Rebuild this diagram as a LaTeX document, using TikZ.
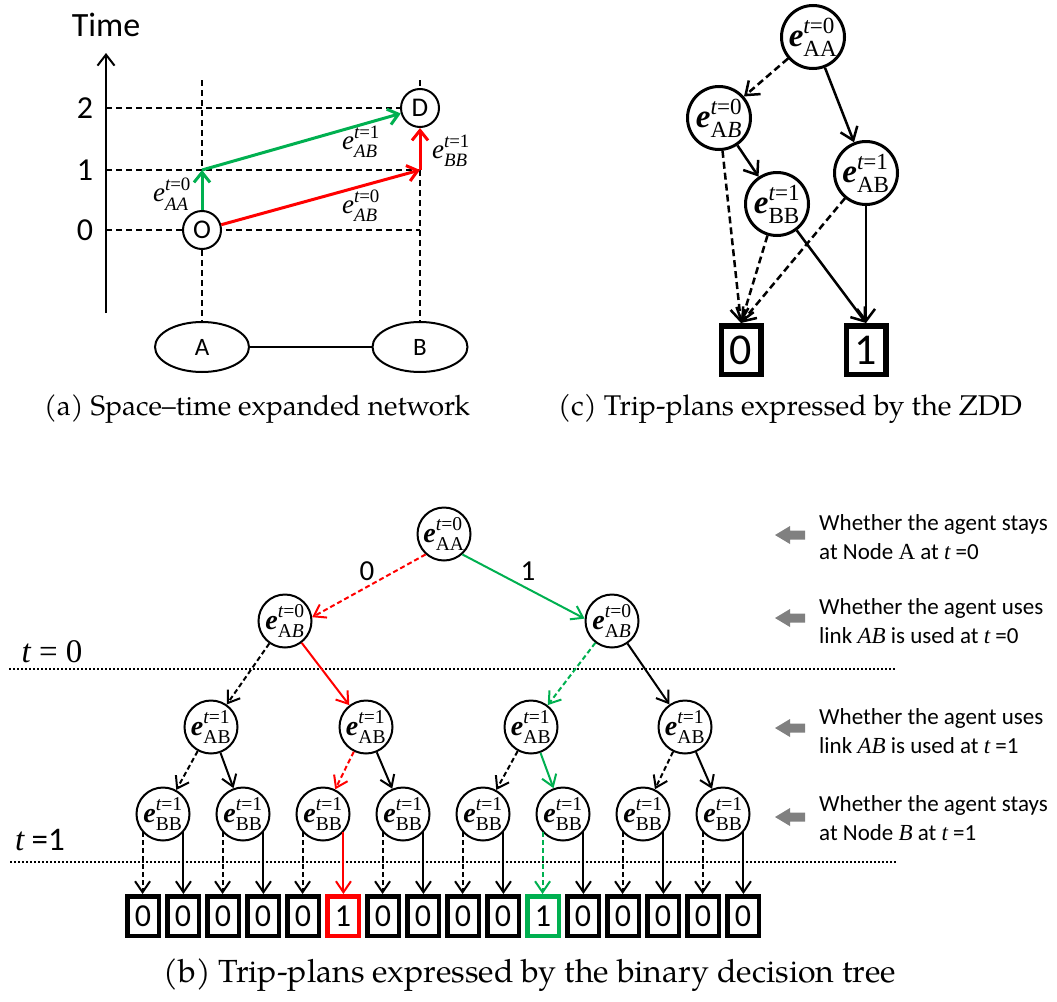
\RequirePackage{fix-cm}
\documentclass[tikz,border=0pt]{standalone}
\usepackage{amsmath}
\usepackage{fontspec}
\newfontfamily\calfont{Carlito}
\newfontfamily\capfont[Ligatures=TeX]{TeX Gyre Pagella}
\newfontfamily\mfont{Liberation Serif}
\usetikzlibrary{arrows.meta,shapes.geometric}

\definecolor{tripred}{RGB}{255,0,0}
\definecolor{tripgreen}{RGB}{0,176,80}
\definecolor{hintgray}{RGB}{128,128,128}

\newcommand\setfs[1]{\fontsize{#1}{#1}\selectfont}
\newcommand\mtx[1]{\text{\mfont #1}}
% script pieces, pushed slightly apart
\newcommand\supp[1]{\raisebox{1.5pt}{$\scriptstyle #1$}}
\newcommand\subb[1]{\raisebox{-1.5pt}{$\scriptstyle #1$}}
% decision variable e^{t=..}_{..}, bold italic e
\newcommand\evar[2]{$\mtx{\bfseries\itshape e}^{\supp{\mtx{\itshape t}\mtx{=#1}}}_{\subb{\mtx{#2}}}$}
% plain italic variant used on the space-time network
\newcommand\pvar[2]{$\mtx{\itshape e}^{\supp{\mtx{\itshape t}\mtx{=#1}}}_{\subb{\mtx{\itshape #2}}}$}

\tikzset{
  gridline/.style={line width=1.6pt,dash pattern=on 6pt off 4pt},
  flow/.style={line width=3pt,-{Straight Barb[length=10pt,width=16pt]}},
  tnode/.style={circle,draw,line width=2pt,fill=white,minimum size=53pt,inner sep=0pt,font=\setfs{28}},
  tedge/.style={line width=2pt,-{Straight Barb[length=11pt,width=15pt]}},
  zeroedge/.style={dash pattern=on 5pt off 3pt},
  leaf/.style={draw,line width=4.5pt,fill=white,minimum width=31.5pt,minimum height=39.5pt,inner sep=0pt,font=\calfont\setfs{32}},
  znode/.style={circle,draw,line width=3pt,fill=white,minimum size=63pt,inner sep=0pt,font=\setfs{33}},
  zedge/.style={line width=2.5pt,-{Straight Barb[length=12pt,width=18pt]}},
  zzero/.style={dash pattern=on 7pt off 4pt},
  zleaf/.style={draw,line width=5.5pt,fill=white,minimum width=39.5pt,minimum height=48.5pt,inner sep=0pt,font=\calfont\setfs{44}},
  caption/.style={font=\capfont},
  hint/.style={anchor=west,align=left,font=\calfont\fontsize{23}{29}\selectfont,inner sep=0pt},
  netlabel/.style={font=\setfs{27},inner sep=0pt},
}

\begin{document}
\begin{tikzpicture}[x=1pt,y=-1pt]
\useasboundingbox (0,0) rectangle (1057,1001);

%% ---------- (a) space-time expanded network ----------
\node[font=\calfont\setfs{34}] (time) at (106,25) {Time};
\coordinate (axlo) at (106,313);
\coordinate (axhi) at (106,53);
\draw[line width=2pt,-{Straight Barb[length=11pt,width=17pt]}] (axlo) -- (axhi);
\foreach \v/\y in {2/108,1/170,0/230}
  \node[font=\calfont\setfs{32}] (tick\v) at (85,\y) {\v};

\coordinate (Atop) at (202,80);  \coordinate (Abot) at (202,322);
\coordinate (Btop) at (420,80);  \coordinate (Bbot) at (420,322);
\coordinate (h2a) at (106,108);  \coordinate (h2b) at (401,108);
\coordinate (h1a) at (106,170);  \coordinate (c1) at (202,170);  \coordinate (c2) at (420,170);
\coordinate (h0a) at (106,230);  \coordinate (h0b) at (420,230);
\draw[gridline] (Atop) -- (Abot);
\draw[gridline] (Btop) -- (Bbot);
\draw[gridline] (h2a) -- (h2b);
\draw[gridline] (h1a) -- (c2);
\draw[gridline] (h0a) -- (h0b);

\node[circle,draw,line width=2pt,fill=white,minimum size=38pt,inner sep=0pt,font=\calfont\setfs{27}] (O) at (202,230) {O};
\node[circle,draw,line width=2pt,fill=white,minimum size=38pt,inner sep=0pt,font=\calfont\setfs{27}] (D) at (420,108) {D};
\node[ellipse,draw,line width=2pt,fill=white,minimum width=94pt,minimum height=50pt,inner sep=0pt,font=\calfont\setfs{25}] (A) at (202,347) {A};
\node[ellipse,draw,line width=2pt,fill=white,minimum width=95pt,minimum height=50pt,inner sep=0pt,font=\calfont\setfs{25}] (B) at (420,347) {B};
\draw[line width=2.5pt] (A) -- (B);

\draw[flow,tripgreen] (O) -- (c1);
\draw[flow,tripgreen] (c1) -- (D);
\draw[flow,tripred] (O) -- (c2);
\draw[flow,tripred] (c2) -- (D);

\node[netlabel] (lAA) at (172,194) {\pvar{0}{AA}};
\node[netlabel] (lAB1) at (361,142) {\pvar{1}{AB}};
\node[netlabel] (lBB1) at (451,151) {\pvar{1}{BB}};
\node[netlabel] (lAB0) at (361,206) {\pvar{0}{AB}};

\node[caption,font=\capfont\setfs{28}] (capa) at (257,409) {(a) Space–time expanded network};

%% ---------- (c) ZDD ----------
\node[znode] (z0) at (813,37) {\evar{0}{AA}};
\node[znode] (z1) at (719,118) {\evar{0}{A\itshape B}};
\node[znode] (z2) at (777,204) {\evar{1}{BB}};
\node[znode] (z3) at (866,173) {\evar{1}{AB}};
\node[zleaf] (zf0) at (741,350) {0};
\node[zleaf] (zf1) at (866,350) {1};
\draw[zedge,zzero] (z0) -- (z1);
\draw[zedge] (z0) -- (z3);
\draw[zedge] (z1) -- (z2);
\draw[zedge,zzero] (z1) -- (zf0.north);
\draw[zedge,zzero] (z2) -- (zf0.north);
\draw[zedge,zzero] (z3) -- (zf0.north);
\draw[zedge] (z2) -- (zf1.north);
\draw[zedge] (z3) -- (zf1.north);

\node[caption,font=\capfont\setfs{28.5}] (capc) at (790,409) {(c) Trip-plans expressed by the ZDD};

%% ---------- (b) binary decision tree ----------
\coordinate (d0a) at (9,669);   \coordinate (d0b) at (895,669);
\coordinate (d1a) at (10,862);  \coordinate (d1b) at (897,862);
\draw[line width=2pt,dash pattern=on 2pt off 2pt] (d0a) -- (d0b);
\draw[line width=2pt,dash pattern=on 2pt off 2pt] (d1a) -- (d1b);
\node[font=\mfont\setfs{33}] (tz) at (52,652) {{\itshape t} = 0};
\node[font=\calfont\setfs{33}] (to) at (40,840) {{\mfont\itshape t} =1};

\node[tnode] (r) at (444,534) {\evar{0}{AA}};
\node[tnode] (p0) at (285,621) {\evar{0}{A\itshape B}};
\node[tnode] (p1) at (612,621) {\evar{0}{A\itshape B}};
\foreach \i/\x in {0/211,1/366,2/531,3/685}
  \node[tnode] (q\i) at (\x,727) {\evar{1}{AB}};
\foreach \i in {0,...,7}
  \node[tnode] (s\i) at (163+80*\i,814) {\evar{1}{BB}};
\foreach \k/\v/\c in {0/0/black,1/0/black,2/0/black,3/0/black,4/0/black,5/1/tripred,
                      6/0/black,7/0/black,8/0/black,9/0/black,10/1/tripgreen,11/0/black,
                      12/0/black,13/0/black,14/0/black,15/0/black}
  \node[leaf,draw=\c] (f\k) at (143+40*\k,916) {\v};

\node[font=\calfont\setfs{29}] (lz) at (367,571) {0};
\node[font=\calfont\setfs{29}] (lo) at (528,571) {1};

\draw[tedge,zeroedge,tripred] (r.228) -- (p0.8);
\draw[tedge,tripgreen] (r.312) -- (p1.175);
\draw[tedge,zeroedge] (p0) -- (q0);
\draw[tedge,tripred] (p0) -- (q1);
\draw[tedge,zeroedge,tripgreen] (p1) -- (q2);
\draw[tedge] (p1) -- (q3);
\foreach \i/\lc/\rc in {0/black/black,1/tripred/black,2/black/tripgreen,3/black/black}{
  \pgfmathtruncatemacro\a{2*\i}
  \pgfmathtruncatemacro\b{2*\i+1}
  \draw[tedge,zeroedge,\lc] (q\i) -- (s\a);
  \draw[tedge,\rc] (q\i) -- (s\b);
}
\foreach \i/\lc/\rc in {0/black/black,1/black/black,2/black/tripred,3/black/black,
                        4/black/black,5/tripgreen/black,6/black/black,7/black/black}{
  \pgfmathtruncatemacro\a{2*\i}
  \pgfmathtruncatemacro\b{2*\i+1}
  \draw[tedge,zeroedge,\lc] (s\i.222) -- (s\i.222 |- f\a.north);
  \draw[tedge,\rc] (s\i.318) -- (s\i.318 |- f\b.north);
}

% level hints on the right
\foreach \y in {535,618,728,817}
  \fill[hintgray] (805,\y-4.5) -- (790,\y-4.5) -- (790,\y-9) -- (775,\y) -- (790,\y+9) -- (790,\y+4.5) -- (805,\y+4.5) -- cycle;
\node[hint] (h1) at (819,537) {Whether the agent stays\\at Node {\mfont A} at {\mfont\itshape t} =0};
\node[hint] (h2) at (819,621) {Whether the agent uses\\link {\mfont\itshape AB} is used at {\mfont\itshape t} =0};
\node[hint] (h3) at (819,731) {Whether the agent uses\\link {\mfont\itshape AB} is used at {\mfont\itshape t} =1};
\node[hint] (h4) at (819,818) {Whether the agent stays\\at Node {\mfont\itshape B} at {\mfont\itshape t} =1};

\node[caption,font=\capfont\setfs{32}] (capb) at (530,975) {(b) Trip-plans expressed by the binary decision tree};
\end{tikzpicture}
\end{document}
